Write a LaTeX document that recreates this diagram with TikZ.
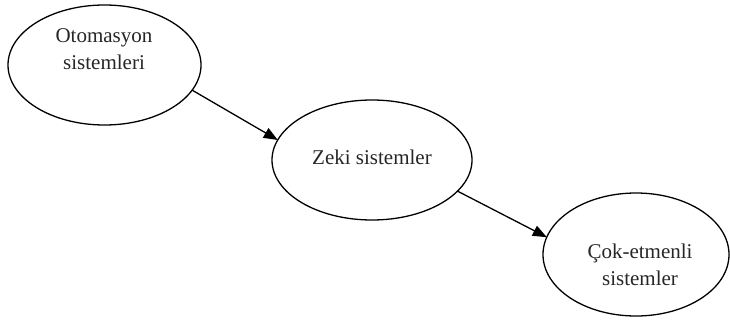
\documentclass[tikz,border=0pt]{standalone}
\usepackage{fontspec}
\setmainfont{Liberation Serif}
\usetikzlibrary{shapes.geometric,arrows.meta}
\tikzset{
  oval/.style={draw=black, line width=1.3pt, ellipse, inner sep=0pt, outer sep=0pt},
  lbl/.style={align=center, inner sep=0pt, font=\fontsize{21pt}{27pt}\selectfont, text=black!85},
  conn/.style={draw=black, line width=1.3pt, -{Triangle[length=14pt,width=11pt]}}
}
\begin{document}
\begin{tikzpicture}[x=1pt,y=1pt]
\useasboundingbox (0,0) rectangle (730,322);
\node[oval, minimum width=193pt, minimum height=120pt] (e1) at (104.5,257) {};
\node[oval, minimum width=200pt, minimum height=120pt] (e2) at (372,162) {};
\node[oval, minimum width=186pt, minimum height=123pt] (e3) at (636,67.5) {};
\node[lbl] (t1) at (104,273) {Otomasyon\\sistemleri};
\node[lbl] (t2) at (372,165) {Zeki sistemler};
\node[lbl] (t3) at (640,57.5) {Çok-etmenli\\sistemler};
\draw[conn] (e1.-16.6) -- (e2.168);
\draw[conn] (e2.-20.6) -- (e3.169.3);
\end{tikzpicture}
\end{document}
